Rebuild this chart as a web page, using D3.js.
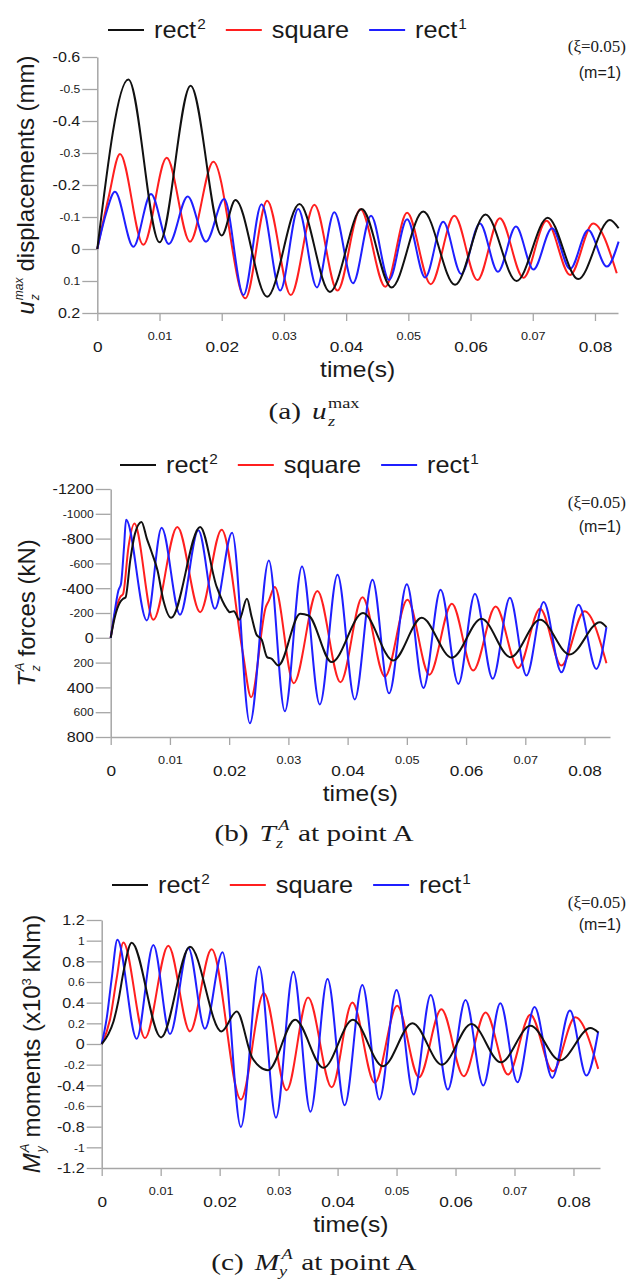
<!DOCTYPE html>
<html><head><meta charset="utf-8">
<script src="https://cdn.jsdelivr.net/npm/d3@7"></script>
<style>body{margin:0;background:#fff}svg{display:block}</style>
</head><body>
<svg id="chart" width="627" height="1283"></svg>
<script>
// ---------------- DATA ----------------
const seriesNames = ["rect", "square", "rect"];
const seriesSup = ["2", "", "1"];
const timeTicks = [0, 0.01, 0.02, 0.03, 0.04, 0.05, 0.06, 0.07, 0.08];
const dispTicks = [-0.6, -0.5, -0.4, -0.3, -0.2, -0.1, 0, 0.1, 0.2];
const forceTicks = [-1200, -1000, -800, -600, -400, -200, 0, 200, 400, 600, 800];
const momentTicks = [1.2, 1, 0.8, 0.6, 0.4, 0.2, 0, -0.2, -0.4, -0.6, -0.8, -1, -1.2];

// (a) u_z^max displacements (mm) : [time(s), value]
const dispRect2 = [[0,0],[0.0050,-0.530],[0.0100,-0.021],[0.0150,-0.510],[0.0200,-0.042],[0.0222,-0.153],[0.0273,0.149],[0.0325,-0.141],[0.0374,0.134],[0.0425,-0.125],[0.0473,0.120],[0.0524,-0.117],[0.0575,0.112],[0.0624,-0.108],[0.0674,0.100],[0.0724,-0.098],[0.0773,0.094],[0.0824,-0.091],[0.0838,-0.065]];
const dispSquare = [[0,0],[0.0018,-0.16],[0.00365,-0.297],[0.0074,-0.013],[0.01115,-0.285],[0.0149,-0.023],[0.01866,-0.273],[0.0238,0.154],[0.0273,-0.151],[0.0311,0.144],[0.0349,-0.138],[0.0386,0.130],[0.0423,-0.124],[0.0463,0.118],[0.0498,-0.113],[0.0536,0.110],[0.0574,-0.104],[0.0611,0.097],[0.0647,-0.096],[0.0685,0.090],[0.0722,-0.088],[0.0760,0.081],[0.0797,-0.080],[0.0835,0.076]];
const dispRect1 = [[0,0],[0.0014,-0.11],[0.00284,-0.179],[0.0058,-0.007],[0.00863,-0.172],[0.0115,-0.016],[0.01453,-0.164],[0.01748,-0.023],[0.0204,-0.156],[0.0235,0.144],[0.0264,-0.140],[0.0294,0.130],[0.0323,-0.125],[0.0353,0.120],[0.0381,-0.115],[0.0411,0.107],[0.0440,-0.104],[0.0469,0.097],[0.0498,-0.093],[0.0527,0.089],[0.0556,-0.085],[0.0585,0.078],[0.0615,-0.080],[0.0644,0.071],[0.0673,-0.070],[0.0701,0.064],[0.0731,-0.065],[0.0760,0.0625],[0.0789,-0.059],[0.0819,0.055],[0.0838,-0.023]];

// (b) T_z^A forces (kN)
const forceRect2 = [[0,0],[0.0007,-167],[0.0016,-288],[0.0021,-315],[0.0025,-325],[0.0033,-624],[0.0041,-840],[0.0052,-934],[0.0061,-800],[0.0069,-692],[0.0079,-544],[0.0089,-301],[0.0102,-161],[0.0151,-894],[0.0179,-410],[0.0196,-234],[0.0201,-207],[0.0208,-215],[0.0217,-145],[0.0230,-315],[0.0238,-167],[0.0246,-27],[0.0255,16],[0.0264,156],[0.0272,170],[0.0283,223],[0.0320,-194],[0.0334,-180],[0.0373,196],[0.0426,-199],[0.0477,183],[0.0525,-161],[0.0576,161],[0.0626,-153],[0.0675,156],[0.0725,-145],[0.0775,135],[0.0826,-126],[0.0837,-86]];
const forceSquare = [[0,0],[0.0007,-194],[0.0016,-328],[0.0021,-355],[0.0030,-732],[0.0040,-921],[0.0072,-145],[0.01125,-894],[0.0151,-207],[0.01873,-872],[0.0223,120],[0.0237,479],[0.0262,-250],[0.0267,-300],[0.0277,-409],[0.0309,366],[0.0349,-377],[0.0388,358],[0.0425,-328],[0.0463,313],[0.0501,-307],[0.0538,297],[0.0576,-275],[0.0612,264],[0.0650,-253],[0.0688,243],[0.0725,-234],[0.0761,224],[0.0800,-215],[0.0837,205]];
const forceRect1 = [[0,0],[0.00045,-140],[0.0013,-382],[0.00174,-436],[0.00225,-732],[0.00259,-953],[0.0061,-140],[0.0086,-888],[0.0117,-186],[0.0148,-867],[0.0176,-234],[0.0205,-848],[0.0235,689],[0.0267,-624],[0.0294,592],[0.0323,-576],[0.0353,538],[0.0383,-509],[0.0412,497],[0.0442,-469],[0.0470,448],[0.0500,-431],[0.0528,404],[0.0557,-388],[0.0587,372],[0.0615,-356],[0.0645,331],[0.0674,-323],[0.0702,305],[0.0731,-288],[0.0761,278],[0.0790,-267],[0.0820,251],[0.0837,-86]];

// (c) M_y^A moments (x10^3 kNm)
const momentRect2 = [[0,0],[0.00113,0.096],[0.0020,0.218],[0.0028,0.41],[0.0037,0.70],[0.00508,0.980],[0.01006,0.064],[0.01497,0.941],[0.0203,0.122],[0.0229,0.315],[0.0255,-0.13],[0.0268,-0.22],[0.0282,-0.254],[0.0328,0.235],[0.0376,-0.231],[0.0426,0.234],[0.0477,-0.216],[0.0527,0.202],[0.0577,-0.200],[0.0627,0.193],[0.0677,-0.177],[0.0727,0.176],[0.0777,-0.158],[0.0829,0.154],[0.0842,0.112]];
const momentSquare = [[0,0],[0.0014,0.235],[0.00254,0.636],[0.00367,0.983],[0.00734,0.058],[0.0113,0.951],[0.01497,0.122],[0.01864,0.916],[0.0236,-0.537],[0.0275,0.492],[0.03136,-0.447],[0.0350,0.450],[0.0390,-0.418],[0.0425,0.401],[0.0463,-0.376],[0.0501,0.369],[0.0538,-0.322],[0.0576,0.337],[0.0614,-0.312],[0.0651,0.305],[0.0689,-0.296],[0.0727,0.282],[0.0765,-0.264],[0.0803,0.260],[0.0842,-0.241]];
const momentRect1 = [[0,0],[0.00085,0.25],[0.0017,0.636],[0.00266,1.009],[0.00593,0.051],[0.00876,0.957],[0.01158,0.096],[0.0147,0.93],[0.0175,0.148],[0.0205,0.887],[0.0236,-0.803],[0.0267,0.749],[0.02955,-0.713],[0.0325,0.700],[0.0354,-0.655],[0.0383,0.630],[0.0412,-0.593],[0.0442,0.572],[0.0471,-0.537],[0.0500,0.523],[0.0529,-0.489],[0.0558,0.475],[0.0587,-0.441],[0.0617,0.427],[0.0647,-0.402],[0.0676,0.395],[0.0705,-0.370],[0.0734,0.357],[0.0764,-0.328],[0.0794,0.324],[0.0822,-0.306],[0.0842,0.121]];

// ---------------- STYLE / LAYOUT ----------------
const SANS = "'Liberation Sans', Arial, sans-serif";
const SERIF = "'Liberation Serif', 'Times New Roman', serif";
const COLORS = ["#111111", "#ff1f1f", "#1f1fff"];
const DRAW_ORDER = [1, 2, 0];
const AXIS_COLOR = "#a6a6a6";
const TXT = "#1a1a1a";
const SX_TICK = 1.15, SX_LEG = 1.1, SX_TITLE = 1.12, SX_CAP = 1.22;

const svg = d3.select("#chart");

function rich(parent, parts, anchor) {
  const nodes = parts.map(p => {
    const t = parent.append("text")
      .attr("y", p.dy || 0)
      .attr("font-size", p.fs)
      .attr("font-family", p.ff || SANS)
      .attr("font-style", p.it ? "italic" : "normal")
      .attr("fill", TXT)
      .text(p.t);
    return { t, p, w: t.node().getComputedTextLength() };
  });
  let x = 0, i = 0;
  while (i < nodes.length) {
    const n = nodes[i];
    const g = n.p.gap || 0;
    if (n.p.stack && i + 1 < nodes.length) {
      const m = nodes[i + 1], g2 = m.p.gap || 0;
      n.t.attr("x", x + g); m.t.attr("x", x + g2);
      x += Math.max(n.w + g, m.w + g2); i += 2;
    } else {
      n.t.attr("x", x + g); x += n.w + g; i++;
    }
  }
  const off = anchor === "middle" ? -x / 2 : (anchor === "end" ? -x : 0);
  nodes.forEach(n => n.t.attr("x", +n.t.attr("x") + off));
  return x;
}

const panels = [
  { series: [dispRect2, dispSquare, dispRect1], yTicks: dispTicks,
    xr: [97.3, 618], xmax: 0.0837, yr: [57, 313],
    legendX: 108, legendY: 30, xiY: 52, mY: 78, capDy: 106,
    yTitleX: 34, yTitle: [{t:"u", it:true, fs:24}, {t:"max", it:true, fs:12, dy:-11, stack:true, gap:1}, {t:"z", it:true, fs:12, dy:5, gap:1}, {t:"displacements (mm)", fs:24, gap:6}],
    caption: [{t:"(a)", fs:24, ff:SERIF}, {t:"u", it:true, fs:24, ff:SERIF, gap:9}, {t:"max", fs:15, ff:SERIF, dy:-11, stack:true, gap:1}, {t:"z", it:true, fs:15, ff:SERIF, dy:7, gap:1}] },
  { series: [forceRect2, forceSquare, forceRect1], yTicks: forceTicks,
    xr: [110.7, 610], xmax: 0.0843, yr: [489, 737],
    legendX: 120, legendY: 465, xiY: 508, mY: 532, capDy: 104,
    yTitleX: 35, yTitle: [{t:"T", it:true, fs:24}, {t:"A", it:true, fs:13, dy:-11, stack:true, gap:1}, {t:"z", it:true, fs:12, dy:5, gap:1}, {t:"forces (kN)", fs:24, gap:6}],
    caption: [{t:"(b)", fs:24, ff:SERIF}, {t:"T", it:true, fs:24, ff:SERIF, gap:9}, {t:"A", it:true, fs:15, ff:SERIF, dy:-11, stack:true, gap:2}, {t:"z", it:true, fs:15, ff:SERIF, dy:7, gap:0}, {t:"at point A", fs:24, ff:SERIF, gap:7}] },
  { series: [momentRect2, momentSquare, momentRect1], yTicks: momentTicks,
    xr: [101.7, 600], xmax: 0.0845, yr: [920, 1168],
    legendX: 112, legendY: 885, xiY: 908, mY: 930, capDy: 102,
    yTitleX: 40, yTitle: [{t:"M", it:true, fs:24}, {t:"A", it:true, fs:13, dy:-11, stack:true, gap:1}, {t:"y", it:true, fs:12, dy:5, gap:1}, {t:"moments (x10", fs:24, gap:6}, {t:"3", fs:13, dy:-9}, {t:"kNm)", fs:24, gap:6}],
    caption: [{t:"(c)", fs:24, ff:SERIF}, {t:"M", it:true, fs:24, ff:SERIF, gap:9}, {t:"A", it:true, fs:15, ff:SERIF, dy:-11, stack:true, gap:2}, {t:"y", it:true, fs:15, ff:SERIF, dy:6, gap:0}, {t:"at point A", fs:24, ff:SERIF, gap:7}] }
];

panels.forEach(P => {
  const x = d3.scaleLinear().domain([0, P.xmax]).range(P.xr);
  const y = d3.scaleLinear().domain([P.yTicks[0], P.yTicks[P.yTicks.length - 1]]).range(P.yr);
  const A = P.yr[1];

  // y axis
  const gy = svg.append("g").attr("transform", `translate(${P.xr[0]},0)`)
    .call(d3.axisLeft(y).tickValues(P.yTicks).tickSize(15).tickSizeOuter(0).tickPadding(2).tickFormat(d => String(d)));
  // x axis
  const gx = svg.append("g").attr("transform", `translate(0,${A})`)
    .call(d3.axisBottom(x).tickValues(timeTicks).tickSize(8).tickSizeOuter(0).tickFormat(d => String(d)));
  [gx, gy].forEach(g => {
    g.select(".domain").attr("stroke", AXIS_COLOR).attr("stroke-width", 1.5);
    g.selectAll(".tick line").attr("stroke", AXIS_COLOR).attr("stroke-width", 1.3);
  });
  gy.selectAll(".tick text").each(function(d, i) {
    const t = d3.select(this);
    const tx = +t.attr("x");
    t.attr("x", 0).attr("dy", "0.35em").attr("transform", `translate(${tx},0) scale(${SX_TICK},1)`)
      .attr("font-size", i % 2 ? 10.5 : 14).attr("font-family", SANS).attr("fill", TXT);
  });
  gx.selectAll(".tick text").each(function(d, i) {
    const t = d3.select(this);
    t.attr("y", 0).attr("dy", "0.35em").attr("transform", `translate(0,${i % 2 ? 23 : 34}) scale(${SX_TICK},1)`)
      .attr("font-size", i % 2 ? 11 : 15).attr("font-family", SANS).attr("fill", TXT);
  });

  // curves
  const line = d3.line().x(d => x(d[0])).y(d => y(d[1])).curve(d3.curveMonotoneX);
  DRAW_ORDER.forEach(k => {
    svg.append("path").datum(P.series[k]).attr("d", line)
      .attr("fill", "none").attr("stroke", COLORS[k]).attr("stroke-width", 2).attr("stroke-linejoin", "round");
  });

  // legend
  let lx = P.legendX;
  seriesNames.forEach((name, k) => {
    svg.append("line").attr("x1", lx).attr("x2", lx + 36).attr("y1", P.legendY).attr("y2", P.legendY)
      .attr("stroke", COLORS[k]).attr("stroke-width", 2);
    const g = svg.append("g").attr("transform", `translate(${lx + 46},${P.legendY + 8}) scale(${SX_LEG},1)`);
    const parts = [{t: name, fs: 23}];
    if (seriesSup[k]) parts.push({t: seriesSup[k], fs: 14, dy: -9, gap: 1});
    const w = rich(g, parts, "start") * SX_LEG;
    lx += 46 + w + 20;
  });

  // annotations
  svg.append("text").attr("x", 626).attr("y", P.xiY).attr("text-anchor", "end")
    .attr("font-family", SERIF).attr("font-size", 17).attr("fill", TXT).text("(ξ=0.05)");
  svg.append("text").attr("x", 621).attr("y", P.mY).attr("text-anchor", "end")
    .attr("font-family", SANS).attr("font-size", 16).attr("fill", TXT).text("(m=1)");

  // x title
  const xc = (P.xr[0] + P.xr[1]) / 2;
  svg.append("g").attr("transform", `translate(${xc},${A + 64}) scale(${SX_TITLE},1)`)
    .append("text").attr("text-anchor", "middle").attr("font-family", SANS).attr("font-size", 22).attr("fill", TXT).text("time(s)");

  // y title
  const yc = (P.yr[0] + P.yr[1]) / 2;
  const gt = svg.append("g").attr("transform", `translate(${P.yTitleX},${yc}) rotate(-90)`);
  rich(gt, P.yTitle, "middle");

  // caption
  const gc = svg.append("g").attr("transform", `translate(314,${A + P.capDy}) scale(${SX_CAP},1)`);
  rich(gc, P.caption, "middle");
});
</script>
</body></html>
